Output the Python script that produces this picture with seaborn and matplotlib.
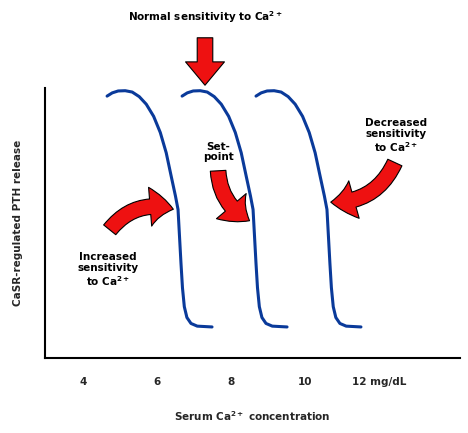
import matplotlib
matplotlib.use("Agg")
import matplotlib.pyplot as plt
import seaborn as sns
import numpy as np
from matplotlib.patches import FancyArrowPatch

sns.set_style("white")
plt.rcParams['font.family'] = ['DejaVu Sans']
plt.rcParams['mathtext.default'] = 'bf'

# response curve shape relative to set-point (x offset in mg/dL, y response 0..1)
shape_dx = [-1.92, -1.78, -1.62, -1.43, -1.24, -1.05, -0.86, -0.66, -0.48, -0.32,
            -0.18, -0.07, 0.0, 0.04, 0.08, 0.12, 0.17, 0.24, 0.35, 0.52, 0.92]
shape_y = [0.97, 0.982, 0.989, 0.99, 0.985, 0.968, 0.94, 0.895, 0.835, 0.76,
           0.67, 0.60, 0.55, 0.45, 0.35, 0.26, 0.19, 0.15, 0.128, 0.118, 0.115]
set_points = [6.57, 8.6, 10.6]
tick_pos = [4, 6, 8, 10, 12]
tick_labels = ['4', '6', '8', '10', '12 mg/dL']

fig = plt.figure(figsize=(4.68, 4.33), dpi=100)
ax = fig.add_axes([45/468, 1-358/433, 415/468, 270/433])
for sp in set_points:
    sns.lineplot(x=[sp + d for d in shape_dx], y=shape_y, sort=False,
                 color='#0a3a9a', lw=2.2, ax=ax)
ax.set_xlim(2.97, 14.2)
ax.set_ylim(0, 1)
ax.set_yticks([])
ax.set_xticks(tick_pos)
ax.set_xticklabels(tick_labels, fontsize=7.5, fontweight='bold')
ax.tick_params(axis='x', length=0, pad=14)
for s in ['top', 'right']:
    ax.spines[s].set_visible(False)
for s in ['left', 'bottom']:
    ax.spines[s].set_color('black')
    ax.spines[s].set_linewidth(1.5)
ax.set_xlabel('Serum Ca$^{2+}$ concentration', fontsize=7.5, fontweight='bold', labelpad=16)
ax.set_ylabel('CaSR-regulated PTH release', fontsize=7.5, fontweight='bold', labelpad=16)

def fp(x, y):
    return (x/468, 1-y/433)

style = "simple,head_width=2.0,head_length=1.2,tail_width=0.8"
arrows = [
    (fp(205, 35), fp(205, 88), "arc3,rad=0"),
    (fp(108, 232), fp(176, 210), "arc3,rad=-0.35"),
    (fp(218, 168), fp(252, 222), "arc3,rad=0.3"),
    (fp(396, 160), fp(328, 202), "arc3,rad=-0.35"),
]
for a, b, cs in arrows:
    fig.patches.append(FancyArrowPatch(a, b, transform=fig.transFigure,
                                       arrowstyle=style, connectionstyle=cs,
                                       mutation_scale=14, fc='#ee1111', ec='black', lw=0.8))

tk = dict(fontsize=7.5, fontweight='bold', ha='center', va='center', color='black')
fig.text(*fp(205, 17), 'Normal sensitivity to Ca$^{2+}$', **tk)
fig.text(*fp(108, 270), 'Increased\nsensitivity\nto Ca$^{2+}$', linespacing=1.1, **tk)
fig.text(*fp(218, 152), 'Set-\npoint', linespacing=1.1, **tk)
fig.text(*fp(396, 136), 'Decreased\nsensitivity\nto Ca$^{2+}$', linespacing=1.1, **tk)

fig.savefig('out.png', dpi=100)
